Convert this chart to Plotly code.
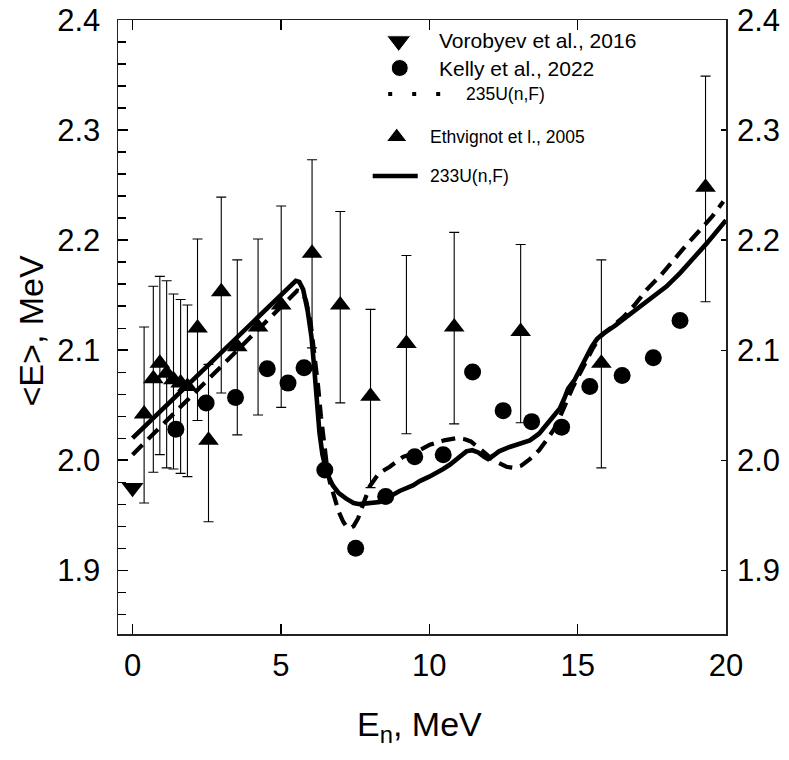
import plotly.graph_objects as go

# ---------------- data ----------------
vor_x = [0.0]
vor_y = [1.975]

eth_x = [0.39, 0.70, 0.92, 1.15, 1.38, 1.62, 1.85, 2.19, 2.56, 2.99, 3.53,
         4.23, 5.01, 6.05, 7.00, 8.02, 9.23, 10.84, 13.08, 15.80, 19.31]
eth_y = [2.042, 2.074, 2.088, 2.079, 2.073, 2.070, 2.067, 2.120, 2.018, 2.153, 2.103,
         2.121, 2.141, 2.188, 2.141, 2.058, 2.106, 2.121, 2.117, 2.088, 2.248]
eth_up = [0.079, 0.084, 0.079, 0.084, 0.078, 0.076, 0.074, 0.081, 0.069, 0.086, 0.079,
          0.080, 0.090, 0.085, 0.085, 0.079, 0.080, 0.086, 0.079, 0.094, 0.101]
eth_dn = [0.081, 0.085, 0.083, 0.086, 0.081, 0.082, 0.082, 0.084, 0.074, 0.092, 0.080,
          0.080, 0.093, 0.086, 0.089, 0.083, 0.082, 0.088, 0.083, 0.095, 0.104]

kel_x = [1.46, 2.48, 3.47, 4.54, 5.24, 5.78, 6.48, 7.52, 8.53, 9.51, 10.47,
         11.46, 12.49, 13.45, 14.46, 15.41, 16.50, 17.55, 18.45]
kel_y = [2.028, 2.052, 2.057, 2.083, 2.070, 2.084, 1.991, 1.920, 1.967, 2.003, 2.005,
         2.080, 2.045, 2.035, 2.030, 2.067, 2.077, 2.093, 2.127]

u233_x = [0.0, 1.0, 2.0, 3.0, 4.0, 5.0, 5.35, 5.50, 5.62, 5.75, 5.90, 6.03, 6.12,
          6.20, 6.30, 6.40, 6.55, 6.75, 6.95, 7.20, 7.45, 7.65, 8.00, 8.33,
          8.67, 9.00, 9.45, 9.68, 10.00, 10.24, 10.47, 10.70, 10.90, 11.10, 11.25,
          11.45, 11.65, 11.85, 11.98, 12.15, 12.35, 12.71, 13.05, 13.39, 13.70,
          13.95, 14.20, 14.40, 14.55, 14.68, 14.90, 15.08, 15.30, 15.47, 15.65,
          15.86, 16.25, 16.65, 17.10, 17.55, 18.00, 18.45, 18.90, 19.35, 20.0]
u233_y = [2.020, 2.046, 2.072, 2.098, 2.124, 2.150, 2.159, 2.163, 2.162, 2.155, 2.136,
          2.112, 2.085, 2.055, 2.025, 2.005, 1.988, 1.977, 1.970, 1.965, 1.961,
          1.960, 1.961, 1.962, 1.967, 1.972, 1.977, 1.981, 1.985, 1.988, 1.992,
          1.996, 2.000, 2.004, 2.008, 2.009, 2.007, 2.003, 2.001, 2.004, 2.008,
          2.012, 2.015, 2.018, 2.024, 2.032, 2.040, 2.047, 2.056, 2.065, 2.073,
          2.083, 2.094, 2.103, 2.110, 2.115, 2.122, 2.130, 2.139, 2.148, 2.158,
          2.170, 2.183, 2.197, 2.218]

u235_x = [0.0, 1.0, 2.0, 3.0, 4.0, 5.0, 5.35, 5.55, 5.70, 5.85, 6.00, 6.12, 6.25,
          6.35, 6.45, 6.55, 6.65, 6.80, 6.95, 7.10, 7.22, 7.32, 7.45, 7.60, 7.80,
          7.99, 8.30, 8.67, 9.12, 9.45, 10.02, 10.50, 10.92, 11.20, 11.40, 11.59,
          11.90, 12.15, 12.38, 12.60, 12.83, 13.10, 13.39, 13.70, 13.95, 14.20,
          14.40, 14.62, 14.85, 15.08, 15.30, 15.50, 15.75, 16.15, 16.54, 16.95,
          17.33, 17.80, 18.22, 18.65, 19.12, 19.55, 19.91]
u235_y = [2.005, 2.032, 2.059, 2.086, 2.113, 2.140, 2.149, 2.154, 2.153, 2.145, 2.125,
          2.100, 2.068, 2.040, 2.015, 1.995, 1.980, 1.966, 1.953, 1.944, 1.939,
          1.938, 1.940, 1.947, 1.962, 1.976, 1.988, 1.994, 2.003, 2.006, 2.014,
          2.018, 2.020, 2.019, 2.017, 2.013, 2.006, 2.000, 1.997, 1.994, 1.993,
          1.995, 2.001, 2.009, 2.018, 2.028, 2.039, 2.053, 2.067, 2.079, 2.091,
          2.101, 2.112, 2.121, 2.130, 2.142, 2.155, 2.168, 2.182, 2.195, 2.209,
          2.222, 2.235]

x_ticks = [0, 5, 10, 15, 20]
y_ticks = [1.9, 2.0, 2.1, 2.2, 2.3, 2.4]

legend_labels = ["Vorobyev et al., 2016", "Kelly et al., 2022", "235U(n,F)",
                 "Ethvignot et l., 2005", "233U(n,F)"]

# ---------------- styling ----------------
FONT = "Liberation Sans, Arial, sans-serif"
BLACK = "black"
X_RANGE = [-0.49, 20.0]
Y_RANGE = [1.842, 2.4]

fig = go.Figure()

fig.add_trace(go.Scatter(
    x=eth_x, y=eth_y, mode="markers",
    marker=dict(symbol="triangle-up", size=18, color=BLACK, opacity=1),
    error_y=dict(type="data", array=eth_up, arrayminus=eth_dn, symmetric=False,
                 color=BLACK, thickness=1.1, width=5),
    showlegend=False))

fig.add_trace(go.Scatter(
    x=kel_x, y=kel_y, mode="markers",
    marker=dict(symbol="circle", size=17, color=BLACK, opacity=1),
    showlegend=False))

fig.add_trace(go.Scatter(
    x=vor_x, y=vor_y, mode="markers",
    marker=dict(symbol="triangle-down", size=19, color=BLACK, opacity=1),
    showlegend=False))

fig.add_trace(go.Scatter(
    x=u235_x, y=u235_y, mode="lines",
    line=dict(color=BLACK, width=4.2, dash="14px,8px"),
    showlegend=False))

fig.add_trace(go.Scatter(
    x=u233_x, y=u233_y, mode="lines",
    line=dict(color=BLACK, width=4.6),
    showlegend=False))

# ---------------- custom legend (paper coordinates) ----------------
key_x = [0.4617, 0.4634, 0.4584]
key_y = [0.9658, 0.9218, 0.8094]
fig.add_trace(go.Scatter(
    x=key_x, y=key_y, mode="markers", xaxis="x3", yaxis="y3",
    marker=dict(symbol=["triangle-down", "circle", "triangle-up"],
                size=[21, 17, 18], color=BLACK, opacity=1),
    showlegend=False, hoverinfo="skip"))

fig.add_shape(type="line", xref="paper", yref="paper",
              x0=0.4444, x1=0.5330, y0=0.8795, y1=0.8795,
              line=dict(color=BLACK, width=4, dash="4px,20px"))
fig.add_shape(type="line", xref="paper", yref="paper",
              x0=0.4189, x1=0.4930, y0=0.7459, y1=0.7459,
              line=dict(color=BLACK, width=4.5))

leg_pos = [(0.5243, 0.9658, 21), (0.5243, 0.9218, 21), (0.5687, 0.8795, 17.5),
           (0.5095, 0.8094, 17.5), (0.5095, 0.7459, 17.5)]
for txt, (lx, ly, fs) in zip(legend_labels, leg_pos):
    fig.add_annotation(text=txt, x=lx, y=ly, xref="paper", yref="paper",
                       xanchor="left", yanchor="middle", showarrow=False,
                       font=dict(family=FONT, size=fs, color=BLACK))

# axis titles
fig.add_annotation(text="&lt;E&gt;, MeV", x=-0.1424, y=0.495, xref="paper", yref="paper",
                   textangle=-90, showarrow=False, xanchor="center", yanchor="middle",
                   font=dict(family=FONT, size=34, color=BLACK))
fig.add_annotation(text="E<sub>n</sub>, MeV", x=0.4963, y=-0.150, xref="paper", yref="paper",
                   showarrow=False, xanchor="center", yanchor="middle",
                   font=dict(family=FONT, size=34, color=BLACK))

tickfont = dict(family=FONT, size=31, color=BLACK)

fig.update_layout(
    width=789, height=760,
    margin=dict(l=118, r=63, t=20, b=126, autoexpand=False),
    paper_bgcolor="white", plot_bgcolor="white",
    showlegend=False,
    hovermode=False,
    xaxis=dict(range=X_RANGE, tickvals=x_ticks, ticks="inside", ticklen=10,
               tickwidth=1.3, tickcolor=BLACK, showline=True, linewidth=1.5,
               linecolor="#222", mirror="ticks", showgrid=False, zeroline=False,
               tickfont=tickfont, ticklabelstandoff=3, automargin=False),
    yaxis=dict(range=Y_RANGE, tickvals=y_ticks, tickformat=".1f", ticks="inside",
               ticklen=10, tickwidth=1.3, tickcolor=BLACK, showline=True, linewidth=1.5,
               linecolor="#222", mirror=True, showgrid=False, zeroline=False,
               tickfont=tickfont, ticklabelstandoff=10, automargin=False,
               minor=dict(dtick=0.02, ticks="inside", ticklen=8, tickwidth=1.2,
                          tickcolor=BLACK, showgrid=False)),
    yaxis2=dict(range=Y_RANGE, tickvals=y_ticks, tickformat=".1f", ticks="inside",
                ticklen=5, tickwidth=1.2, tickcolor=BLACK, overlaying="y", side="right",
                anchor="x", showline=False, showgrid=False, zeroline=False,
                tickfont=tickfont, ticklabelstandoff=10, automargin=False),
    xaxis3=dict(domain=[0, 1], range=[0, 1], visible=False, overlaying="x"),
    yaxis3=dict(domain=[0, 1], range=[0, 1], visible=False, overlaying="y"),
)

# an empty trace so the right axis is always drawn
fig.add_trace(go.Scatter(x=[None], y=[None], yaxis="y2", showlegend=False, hoverinfo="skip"))

# remove the browser's default page margin so the figure sits at (0, 0)
fig.write_html("out.html",
               config={"displayModeBar": False, "staticPlot": True},
               post_script="document.body.style.margin='0';document.body.style.overflow='hidden';")
